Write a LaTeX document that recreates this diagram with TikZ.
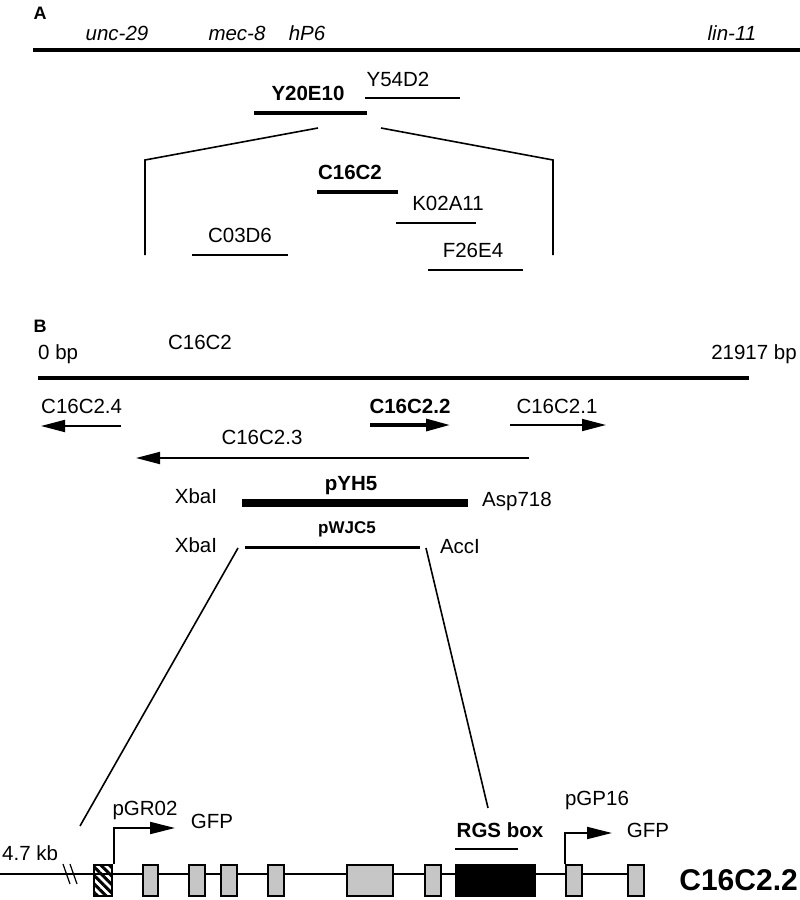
\documentclass[tikz,border=0pt]{standalone}
\usepackage{fontspec}
\setmainfont{Liberation Sans}
\usetikzlibrary{positioning}
\usetikzlibrary{arrows.meta}
\usetikzlibrary{patterns.meta}
\tikzset{
    lab/.style = {inner sep=0pt, anchor=base, font=\fontsize{20.5}{24}\selectfont},
    blab/.style = {lab, font=\fontsize{20.5}{24}\selectfont\bfseries},
    ilab/.style = {lab, font=\fontsize{20.5}{24}\selectfont\itshape},
    plab/.style = {lab, font=\fontsize{18}{20}\selectfont\bfseries},
    slab/.style = {lab, font=\fontsize{17}{20}\selectfont\bfseries},
    biglab/.style = {lab, font=\fontsize{30}{36}\selectfont\bfseries},
    chrom/.style = {line width=4pt},
    clone/.style = {line width=1.6pt},
    bclone/.style = {line width=4pt},
    gene/.style = {-{Triangle[length=24pt,width=12pt]}, line width=1.8pt},
    bgene/.style = {gene, line width=3.2pt},
    prom/.style = {-{Triangle[length=25pt,width=12pt]}, line width=2pt},
    exon/.style = {rectangle, draw=black, line width=1.2pt, fill=gray!45, inner sep=0pt, minimum height=31pt},
    rgsexon/.style = {exon, fill=black},
    firstexon/.style = {exon, fill=white, pattern={Lines[angle=-45,distance=6pt,line width=3pt]}}
}
\begin{document}
\begin{tikzpicture}[x=1pt, y=-1pt]
  \useasboundingbox (0,0) rectangle (800,900);

  % A: chromosome
  \node[plab] (pA) at (40,19) {A};
  \node[ilab] (unc) at (117,40) {unc-29};
  \node[ilab] (mec) at (237,40) {mec-8};
  \node[ilab] (hp) at (307,40) {hP6};
  \node[ilab] (lin) at (732,40) {lin-11};
  \coordinate (chrAl) at (33,50);
  \coordinate (chrAr) at (800,50);
  \draw[chrom] (chrAl) -- (chrAr);

  % YACs
  \node[blab] (y20) at (308,100) {Y20E10};
  \coordinate (y20l) at (254,113);
  \coordinate (y20r) at (367,113);
  \draw[bclone] (y20l) -- (y20r);
  \node[lab] (y54) at (398,86) {Y54D2};
  \coordinate (y54l) at (365,98);
  \coordinate (y54r) at (460,98);
  \draw[clone] (y54l) -- (y54r);

  % zoom in
  \coordinate (zl) at (318,128);
  \coordinate (zr) at (381,128);
  \coordinate (zlc) at (145,160);
  \coordinate (zrc) at (553,160);
  \coordinate (zlb) at (145,255);
  \coordinate (zrb) at (553,255);
  \draw[clone] (zl) -- (zlc) -- (zlb);
  \draw[clone] (zr) -- (zrc) -- (zrb);

  % cosmids
  \node[blab] (c16) at (350,179) {C16C2};
  \coordinate (c16l) at (317,192);
  \coordinate (c16r) at (398,192);
  \draw[bclone] (c16l) -- (c16r);
  \node[lab] (k02) at (448,210) {K02A11};
  \coordinate (k02l) at (396,223);
  \coordinate (k02r) at (476,223);
  \draw[clone] (k02l) -- (k02r);
  \node[lab] (c03) at (240,242) {C03D6};
  \coordinate (c03l) at (192,255);
  \coordinate (c03r) at (288,255);
  \draw[clone] (c03l) -- (c03r);
  \node[lab] (f26) at (473,257) {F26E4};
  \coordinate (f26l) at (428,270);
  \coordinate (f26r) at (523,270);
  \draw[clone] (f26l) -- (f26r);

  % B: cosmid C16C2
  \node[plab] (pB) at (40,332) {B};
  \node[lab, anchor=base west] (zero) at (38,359) {0 bp};
  \node[lab] (cos) at (200,349) {C16C2};
  \node[lab, anchor=base east] (len) at (797,359) {21917 bp};
  \coordinate (chrBl) at (38,378);
  \coordinate (chrBr) at (749,378);
  \draw[chrom] (chrBl) -- (chrBr);

  % genes
  \node[lab, anchor=base west] (g4) at (41,413) {C16C2.4};
  \coordinate (g4s) at (121,426);
  \coordinate (g4e) at (41,426);
  \draw[gene] (g4s) -- (g4e);
  \node[blab] (g2) at (410,413) {C16C2.2};
  \coordinate (g2s) at (370,425);
  \coordinate (g2e) at (450,425);
  \draw[bgene] (g2s) -- (g2e);
  \node[lab] (g1) at (557,413) {C16C2.1};
  \coordinate (g1s) at (510,425);
  \coordinate (g1e) at (606,425);
  \draw[gene] (g1s) -- (g1e);
  \node[lab] (g3) at (262,444) {C16C2.3};
  \coordinate (g3s) at (529,458);
  \coordinate (g3e) at (136,458);
  \draw[gene] (g3s) -- (g3e);

  % rescue constructs
  \node[lab] (xba1) at (196,503) {XbaI};
  \node[blab] (pyh) at (351,490) {pYH5};
  \node[lab, anchor=base west] (asp) at (482,506) {Asp718};
  \coordinate (pyhl) at (242,503);
  \coordinate (pyhr) at (468,503);
  \draw[line width=8pt] (pyhl) -- (pyhr);
  \node[lab] (xba2) at (196,552) {XbaI};
  \node[slab] (pwj) at (347,533) {pWJC5};
  \node[lab] (acc) at (460,553) {AccI};
  \coordinate (pwjl) at (245,547);
  \coordinate (pwjr) at (420,547);
  \draw[line width=3pt] (pwjl) -- (pwjr);

  % zoom in
  \coordinate (ul) at (238,548);
  \coordinate (ur) at (426,548);
  \coordinate (dl) at (80,826);
  \coordinate (dr) at (488,808);
  \draw[clone] (ul) -- (dl);
  \draw[clone] (ur) -- (dr);

  % gene structure
  \node[lab, anchor=base west] (kb) at (2,860) {4.7 kb};
  \coordinate (gl) at (0,874);
  \coordinate (brk) at (67,874);
  \draw[line width=1.2pt] (gl) -- (644,874);
  \draw[line width=1.2pt] (63,864) -- (70,884) (70,864) -- (77,884);
  \node[firstexon, minimum width=18pt] (e0) at (103,880.5) {};
  \foreach \l/\r [count=\i] in {143/158, 189/205, 221/237, 268/284, 347/393, 425/441, 566/582, 628/644}{
    \pgfmathsetmacro{\w}{\r-\l}
    \node[exon, minimum width=\w pt] (e\i) at ({(\l+\r)/2},880.5) {};
  }
  \node[rgsexon, minimum width=79pt] (rgs) at (495.5,880.5) {};

  \node[lab] (rgsl) at (500,837) {\bfseries RGS box};
  \coordinate (rgsa) at (455,849);
  \coordinate (rgsb) at (518,849);
  \draw[line width=1.6pt] (rgsa) -- (rgsb);

  % promoter fusions
  \coordinate (t1) at (175,828);
  \draw[prom] (e0.north east) |- (t1);
  \node[lab] (pgr) at (145,815) {pGR02};
  \node[lab] (gfp1) at (212,828) {GFP};
  \coordinate (t2) at (612,833);
  \draw[prom] (e7.north west) |- (t2);
  \node[lab] (pgp) at (597,805) {pGP16};
  \node[lab] (gfp2) at (648,837) {GFP};

  \node[biglab, anchor=base east] (name) at (798,890) {C16C2.2};
\end{tikzpicture}
\end{document}
